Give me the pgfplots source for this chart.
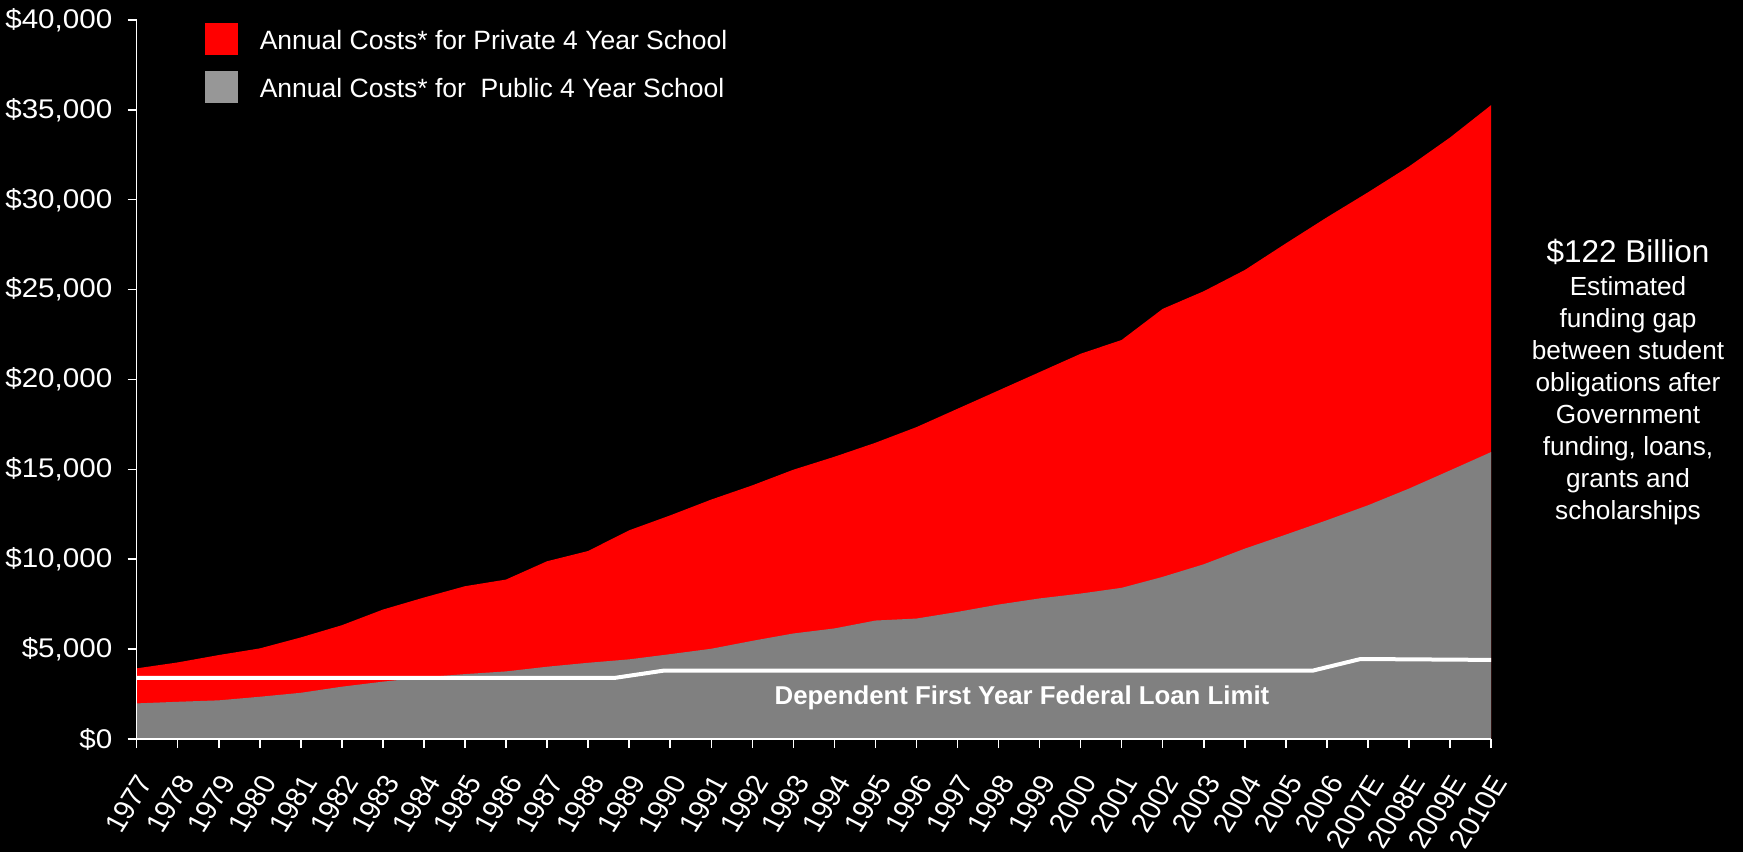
\documentclass[border=0pt]{standalone}
\usepackage{pgfplots}
\pgfplotsset{compat=1.18}
\usepackage{fontspec}
\setmainfont{Liberation Sans}
\definecolor{pubgray}{HTML}{808080}
\definecolor{leggray}{HTML}{979797}
\definecolor{pred}{HTML}{FF0000}
\begin{document}
\begin{tikzpicture}[px/.style={x=0.5bp,y=-0.5bp,shift={(-136.7,-739)}}]
\begin{scope}[px]
\fill[black] (0,0) rectangle (1743,852);
\end{scope}
\begin{axis}[
  scale only axis, width=677.15bp, height=359.5bp,
  xmin=0, xmax=33, ymin=0, ymax=40000,
  axis x line*=bottom, axis y line*=left,
  axis on top,
  axis line style={white, line width=0.75bp},
  tick style={white, line width=0.75bp},
  tick align=outside, major tick length=4.5bp,
  /pgf/number format/assume math mode=true,
  xtick={0,...,33},
  xticklabels={1977,1978,1979,1980,1981,1982,1983,1984,1985,1986,1987,1988,1989,1990,1991,1992,1993,1994,1995,1996,1997,1998,1999,2000,2001,2002,2003,2004,2005,2006,2007E,2008E,2009E,2010E},
  ytick={0,5000,10000,15000,20000,25000,30000,35000,40000},
  yticklabels={{\$0},{\$5,000},{\$10,000},{\$15,000},{\$20,000},{\$25,000},{\$30,000},{\$35,000},{\$40,000}},
  x tick label style={xshift=5bp, yshift=-14bp, xscale=1.0954, rotate=60, anchor=east, text=white, font=\fontsize{13.5bp}{13.5bp}\selectfont, inner sep=1bp},
  y tick label style={xshift=-7.5bp, xscale=1.0954, text=white, font=\fontsize{13.5bp}{13.5bp}\selectfont, inner sep=0pt},
  legend style={draw=none, fill=none, at={(0.05043,0.99541)}, anchor=north west, inner sep=0pt, outer sep=0pt,
    text=white, font=\fontsize{13.25bp}{13.25bp}\selectfont, row sep=8bp, column sep=11bp,
    nodes={inner sep=0pt}},
  legend cell align=left,
]
\addlegendimage{legend image code/.code={\fill[pred] (0bp,-6.7bp) rectangle (16bp,8.8bp);}}
\addlegendentry{Annual Costs* for Private 4 Year School}
\addlegendimage{legend image code/.code={\fill[leggray] (0bp,-6.7bp) rectangle (16bp,8.8bp);}}
\addlegendentry{Annual Costs* for\ \ Public 4 Year School}

\addplot[fill=pred, draw=none, forget plot] coordinates {
(0,3930) (1,4260) (2,4670) (3,5040) (4,5650) (5,6330) (6,7200) (7,7870) (8,8500) (9,8870)
(10,9890) (11,10460) (12,11610) (13,12440) (14,13320) (15,14110) (16,14980) (17,15700) (18,16480) (19,17350)
(20,18370) (21,19390) (22,20410) (23,21430) (24,22200) (25,23930) (26,24910) (27,26090) (28,27570) (29,29020)
(30,30410) (31,31850) (32,33460) (33,35260)
} \closedcycle;
\addplot[fill=pubgray, draw=none, forget plot] coordinates {
(0,1980) (1,2070) (2,2150) (3,2350) (4,2570) (5,2910) (6,3190) (7,3430) (8,3610) (9,3760)
(10,4020) (11,4240) (12,4430) (13,4720) (14,5020) (15,5460) (16,5870) (17,6150) (18,6590) (19,6700)
(20,7070) (21,7480) (22,7820) (23,8090) (24,8410) (25,9020) (26,9720) (27,10590) (28,11370) (29,12170)
(30,13000) (31,13930) (32,14940) (33,15960)
} \closedcycle;
\addplot[white, line width=2bp, forget plot] coordinates {
(0,3400) (11.65,3400) (12.83,3800) (28.65,3800) (29.82,4450) (33,4400)
};
\end{axis}
\begin{scope}[px]
\node[anchor=base, text=white, font=\bfseries\fontsize{12.9bp}{12.9bp}\selectfont, inner sep=0pt] at (1022,705) {Dependent First Year Federal Loan Limit};
\node[anchor=base, text=white, font=\fontsize{15.75bp}{15.75bp}\selectfont, inner sep=0pt] at (1628,262.7) {\$122 Billion};
\begin{scope}[every node/.style={anchor=base, text=white, font=\fontsize{13.1bp}{13.1bp}\selectfont, inner sep=0pt}]
\node at (1628,296) {Estimated};
\node at (1628,328) {funding gap};
\node at (1628,360) {between student};
\node at (1628,392) {obligations after};
\node at (1628,424) {Government};
\node at (1628,456) {funding, loans,};
\node at (1628,488) {grants and};
\node at (1628,520) {scholarships};
\end{scope}
\end{scope}
\pgfresetboundingbox
\begin{scope}[px]
\path[use as bounding box] (0,0) rectangle (1743,852);
\end{scope}
\end{tikzpicture}
\end{document}
